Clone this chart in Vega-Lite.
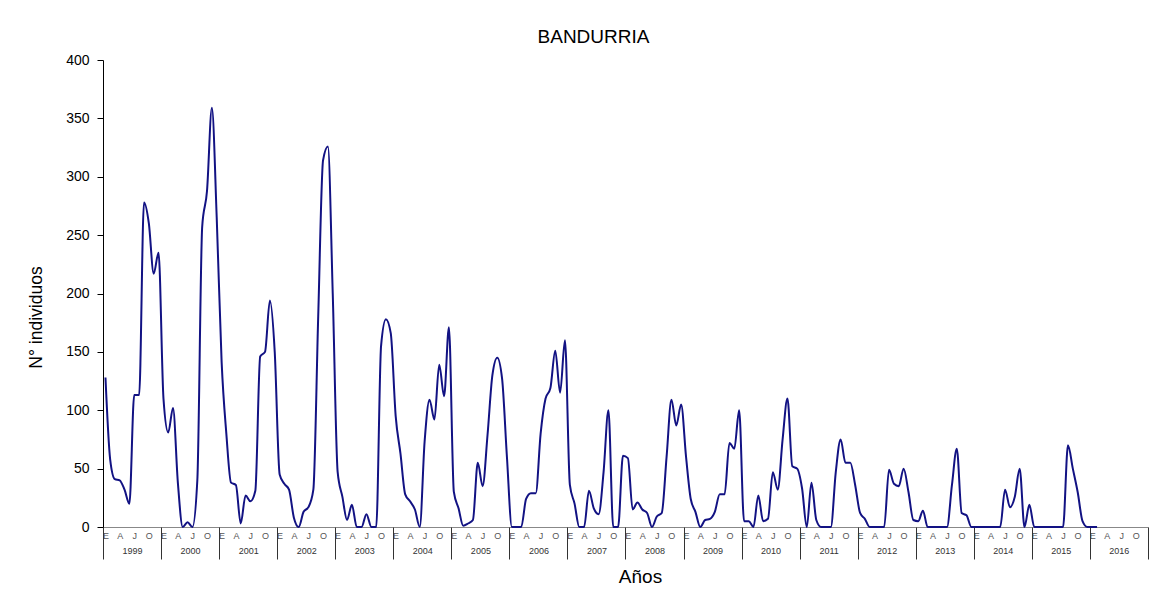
{
  "$schema": "https://vega.github.io/schema/vega-lite/v6.json",
  "width": 1045,
  "height": 467,
  "autosize": {"type": "none"},
  "padding": {"left": 103, "top": 60, "right": 9, "bottom": 68},
  "background": "white",
  "title": {"text": "BANDURRIA", "font": "Liberation Sans", "fontSize": 19, "fontWeight": "normal", "color": "black", "offset": 6, "dx": -32},
  "config": {"view": {"stroke": null}, "font": "Liberation Sans"},
  "data": {
    "format": {"parse": {"fecha": "utc:'%Y-%m'"}},
    "values": [
      {"fecha": "1999-01", "n": 128}, {"fecha": "1999-02", "n": 58}, {"fecha": "1999-03", "n": 41}, {"fecha": "1999-04", "n": 40}, {"fecha": "1999-05", "n": 32}, {"fecha": "1999-06", "n": 20}, {"fecha": "1999-07", "n": 113}, {"fecha": "1999-08", "n": 113}, {"fecha": "1999-09", "n": 278}, {"fecha": "1999-10", "n": 260}, {"fecha": "1999-11", "n": 217}, {"fecha": "1999-12", "n": 235},
      {"fecha": "2000-01", "n": 110}, {"fecha": "2000-02", "n": 81}, {"fecha": "2000-03", "n": 102}, {"fecha": "2000-04", "n": 38}, {"fecha": "2000-05", "n": 0}, {"fecha": "2000-06", "n": 4}, {"fecha": "2000-07", "n": 0}, {"fecha": "2000-08", "n": 40}, {"fecha": "2000-09", "n": 257}, {"fecha": "2000-10", "n": 288}, {"fecha": "2000-11", "n": 359}, {"fecha": "2000-12", "n": 265},
      {"fecha": "2001-01", "n": 141}, {"fecha": "2001-02", "n": 80}, {"fecha": "2001-03", "n": 38}, {"fecha": "2001-04", "n": 36}, {"fecha": "2001-05", "n": 3}, {"fecha": "2001-06", "n": 27}, {"fecha": "2001-07", "n": 22}, {"fecha": "2001-08", "n": 31}, {"fecha": "2001-09", "n": 146}, {"fecha": "2001-10", "n": 150}, {"fecha": "2001-11", "n": 194}, {"fecha": "2001-12", "n": 150},
      {"fecha": "2002-01", "n": 45}, {"fecha": "2002-02", "n": 37}, {"fecha": "2002-03", "n": 32}, {"fecha": "2002-04", "n": 8}, {"fecha": "2002-05", "n": 0}, {"fecha": "2002-06", "n": 13}, {"fecha": "2002-07", "n": 17}, {"fecha": "2002-08", "n": 32}, {"fecha": "2002-09", "n": 180}, {"fecha": "2002-10", "n": 314}, {"fecha": "2002-11", "n": 326}, {"fecha": "2002-12", "n": 200},
      {"fecha": "2003-01", "n": 47}, {"fecha": "2003-02", "n": 26}, {"fecha": "2003-03", "n": 6}, {"fecha": "2003-04", "n": 19}, {"fecha": "2003-05", "n": 0}, {"fecha": "2003-06", "n": 0}, {"fecha": "2003-07", "n": 11}, {"fecha": "2003-08", "n": 0}, {"fecha": "2003-09", "n": 0}, {"fecha": "2003-10", "n": 155}, {"fecha": "2003-11", "n": 178}, {"fecha": "2003-12", "n": 166},
      {"fecha": "2004-01", "n": 95}, {"fecha": "2004-02", "n": 63}, {"fecha": "2004-03", "n": 28}, {"fecha": "2004-04", "n": 22}, {"fecha": "2004-05", "n": 15}, {"fecha": "2004-06", "n": 0}, {"fecha": "2004-07", "n": 73}, {"fecha": "2004-08", "n": 109}, {"fecha": "2004-09", "n": 92}, {"fecha": "2004-10", "n": 139}, {"fecha": "2004-11", "n": 112}, {"fecha": "2004-12", "n": 171},
      {"fecha": "2005-01", "n": 30}, {"fecha": "2005-02", "n": 16}, {"fecha": "2005-03", "n": 1}, {"fecha": "2005-04", "n": 3}, {"fecha": "2005-05", "n": 6}, {"fecha": "2005-06", "n": 55}, {"fecha": "2005-07", "n": 35}, {"fecha": "2005-08", "n": 79}, {"fecha": "2005-09", "n": 130}, {"fecha": "2005-10", "n": 145}, {"fecha": "2005-11", "n": 127}, {"fecha": "2005-12", "n": 60},
      {"fecha": "2006-01", "n": 0}, {"fecha": "2006-02", "n": 0}, {"fecha": "2006-03", "n": 0}, {"fecha": "2006-04", "n": 24}, {"fecha": "2006-05", "n": 29}, {"fecha": "2006-06", "n": 29}, {"fecha": "2006-07", "n": 80}, {"fecha": "2006-08", "n": 110}, {"fecha": "2006-09", "n": 119}, {"fecha": "2006-10", "n": 151}, {"fecha": "2006-11", "n": 115}, {"fecha": "2006-12", "n": 160},
      {"fecha": "2007-01", "n": 36}, {"fecha": "2007-02", "n": 20}, {"fecha": "2007-03", "n": 0}, {"fecha": "2007-04", "n": 0}, {"fecha": "2007-05", "n": 31}, {"fecha": "2007-06", "n": 16}, {"fecha": "2007-07", "n": 11}, {"fecha": "2007-08", "n": 47}, {"fecha": "2007-09", "n": 100}, {"fecha": "2007-10", "n": 0}, {"fecha": "2007-11", "n": 0}, {"fecha": "2007-12", "n": 61},
      {"fecha": "2008-01", "n": 59}, {"fecha": "2008-02", "n": 15}, {"fecha": "2008-03", "n": 21}, {"fecha": "2008-04", "n": 15}, {"fecha": "2008-05", "n": 12}, {"fecha": "2008-06", "n": 0}, {"fecha": "2008-07", "n": 9}, {"fecha": "2008-08", "n": 12}, {"fecha": "2008-09", "n": 60}, {"fecha": "2008-10", "n": 109}, {"fecha": "2008-11", "n": 87}, {"fecha": "2008-12", "n": 105},
      {"fecha": "2009-01", "n": 60}, {"fecha": "2009-02", "n": 24}, {"fecha": "2009-03", "n": 13}, {"fecha": "2009-04", "n": 0}, {"fecha": "2009-05", "n": 6}, {"fecha": "2009-06", "n": 7}, {"fecha": "2009-07", "n": 13}, {"fecha": "2009-08", "n": 28}, {"fecha": "2009-09", "n": 28}, {"fecha": "2009-10", "n": 72}, {"fecha": "2009-11", "n": 67}, {"fecha": "2009-12", "n": 100},
      {"fecha": "2010-01", "n": 5}, {"fecha": "2010-02", "n": 5}, {"fecha": "2010-03", "n": 0}, {"fecha": "2010-04", "n": 27}, {"fecha": "2010-05", "n": 5}, {"fecha": "2010-06", "n": 7}, {"fecha": "2010-07", "n": 47}, {"fecha": "2010-08", "n": 32}, {"fecha": "2010-09", "n": 75}, {"fecha": "2010-10", "n": 110}, {"fecha": "2010-11", "n": 52}, {"fecha": "2010-12", "n": 50},
      {"fecha": "2011-01", "n": 33}, {"fecha": "2011-02", "n": 0}, {"fecha": "2011-03", "n": 38}, {"fecha": "2011-04", "n": 6}, {"fecha": "2011-05", "n": 0}, {"fecha": "2011-06", "n": 0}, {"fecha": "2011-07", "n": 0}, {"fecha": "2011-08", "n": 47}, {"fecha": "2011-09", "n": 75}, {"fecha": "2011-10", "n": 55}, {"fecha": "2011-11", "n": 55}, {"fecha": "2011-12", "n": 36},
      {"fecha": "2012-01", "n": 12}, {"fecha": "2012-02", "n": 7}, {"fecha": "2012-03", "n": 0}, {"fecha": "2012-04", "n": 0}, {"fecha": "2012-05", "n": 0}, {"fecha": "2012-06", "n": 0}, {"fecha": "2012-07", "n": 49}, {"fecha": "2012-08", "n": 37}, {"fecha": "2012-09", "n": 35}, {"fecha": "2012-10", "n": 50}, {"fecha": "2012-11", "n": 30}, {"fecha": "2012-12", "n": 6},
      {"fecha": "2013-01", "n": 5}, {"fecha": "2013-02", "n": 14}, {"fecha": "2013-03", "n": 0}, {"fecha": "2013-04", "n": 0}, {"fecha": "2013-05", "n": 0}, {"fecha": "2013-06", "n": 0}, {"fecha": "2013-07", "n": 0}, {"fecha": "2013-08", "n": 36}, {"fecha": "2013-09", "n": 67}, {"fecha": "2013-10", "n": 12}, {"fecha": "2013-11", "n": 10}, {"fecha": "2013-12", "n": 0},
      {"fecha": "2014-01", "n": 0}, {"fecha": "2014-02", "n": 0}, {"fecha": "2014-03", "n": 0}, {"fecha": "2014-04", "n": 0}, {"fecha": "2014-05", "n": 0}, {"fecha": "2014-06", "n": 0}, {"fecha": "2014-07", "n": 32}, {"fecha": "2014-08", "n": 17}, {"fecha": "2014-09", "n": 26}, {"fecha": "2014-10", "n": 50}, {"fecha": "2014-11", "n": 0}, {"fecha": "2014-12", "n": 19},
      {"fecha": "2015-01", "n": 0}, {"fecha": "2015-02", "n": 0}, {"fecha": "2015-03", "n": 0}, {"fecha": "2015-04", "n": 0}, {"fecha": "2015-05", "n": 0}, {"fecha": "2015-06", "n": 0}, {"fecha": "2015-07", "n": 0}, {"fecha": "2015-08", "n": 70}, {"fecha": "2015-09", "n": 50}, {"fecha": "2015-10", "n": 30}, {"fecha": "2015-11", "n": 5}, {"fecha": "2015-12", "n": 0},
      {"fecha": "2016-01", "n": 0}, {"fecha": "2016-02", "n": 0}
    ]
  },
  "layer": [
    {
      "mark": {"type": "line", "color": "#121283", "strokeWidth": 2, "interpolate": "monotone"},
      "encoding": {
        "x": {
          "field": "fecha", "type": "temporal", "timeUnit": "utcyearmonth", "bandPosition": 0.5,
          "scale": {"type": "utc", "domain": [{"year": 1999, "month": 1, "date": 1, "utc": true}, {"year": 2017, "month": 1, "date": 1, "utc": true}]},
          "axis": {
            "orient": "bottom", "title": null, "grid": false,
            "tickCount": {"interval": "month", "step": 3},
            "ticks": false,
            "labelExpr": "utcyear(datum.value) > 2016 ? '' : ['E','F','M','A','M','J','J','A','S','O','N','D'][utcmonth(datum.value)]",
            "labelOffset": 2.4, "labelPadding": 4, "labelFontSize": 9, "labelColor": "#555555", "labelFont": "Liberation Sans",
            "labelOverlap": false, "labelFlush": false, "labelBound": false, "labelAngle": 0,
            "domainColor": "#888888", "domainWidth": 1
          }
        },
        "y": {
          "field": "n", "type": "quantitative",
          "scale": {"domain": [0, 400], "nice": false},
          "axis": {
            "title": "N° individuos", "values": [0, 50, 100, 150, 200, 250, 300, 350, 400], "grid": false,
            "domainColor": "black", "tickColor": "black", "tickSize": 6, "labelPadding": 8,
            "labelFontSize": 14, "labelColor": "black", "labelFont": "Liberation Sans",
            "titleFontSize": 17.5, "titleFontWeight": "normal", "titleColor": "black", "titleFont": "Liberation Sans",
            "titlePadding": 20, "titleY": 257
          }
        }
      }
    },
    {
      "mark": {"type": "point", "opacity": 0},
      "encoding": {
        "x": {
          "field": "fecha", "type": "temporal", "timeUnit": "utcyearmonth", "bandPosition": 0.5,
          "axis": {
            "orient": "bottom", "title": "Años", "grid": false, "domain": false,
            "tickCount": {"interval": "year", "step": 1},
            "tickSize": 32, "tickColor": "#333333", "tickWidth": 1,
            "labelExpr": "utcyear(datum.value) > 2016 ? '' : utcFormat(datum.value, '%Y')",
            "labelOffset": 29, "labelPadding": -13, "labelFontSize": 9, "labelColor": "#333333", "labelFont": "Liberation Sans",
            "labelOverlap": false, "labelFlush": false, "labelBound": false, "labelAngle": 0,
            "titleFontSize": 19, "titleFontWeight": "normal", "titleColor": "black", "titleFont": "Liberation Sans",
            "titlePadding": 8, "titleX": 537
          }
        }
      }
    }
  ],
  "resolve": {"axis": {"x": "independent"}}
}
